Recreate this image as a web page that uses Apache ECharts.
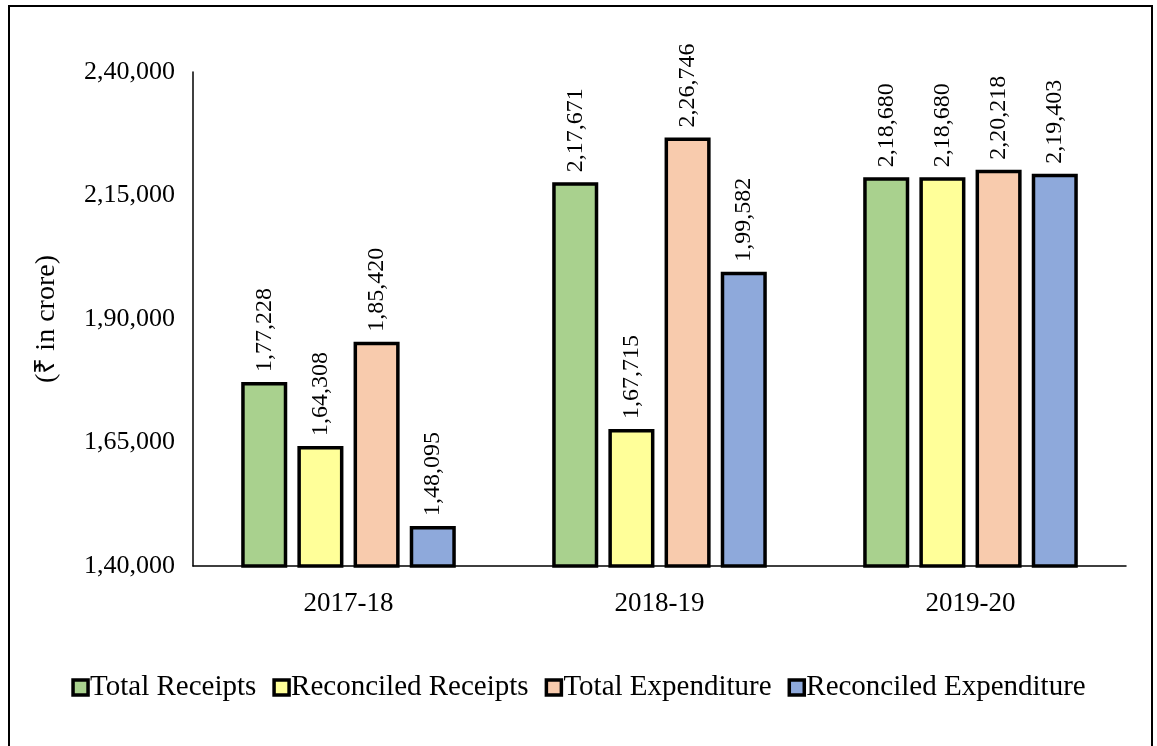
<!DOCTYPE html>
<html>
<head>
<meta charset="utf-8">
<script src="https://cdn.jsdelivr.net/npm/echarts@6/dist/echarts.min.js"></script>
<style>
html,body{margin:0;padding:0;background:#fff;}
#frame{position:absolute;left:8px;top:5px;width:1145px;height:760px;border:2px solid #000;box-sizing:border-box;}
#chart{position:absolute;left:0;top:0;width:1157px;height:746px;}
</style>
</head>
<body>
<div id="frame"></div>
<div id="chart"></div>
<script>
const categories = ['2017-18', '2018-19', '2019-20'];
const seriesNames = ['Total Receipts', 'Reconciled Receipts', 'Total Expenditure', 'Reconciled Expenditure'];
const totalReceipts = [177228, 217671, 218680];
const reconciledReceipts = [164308, 167715, 218680];
const totalExpenditure = [185420, 226746, 220218];
const reconciledExpenditure = [148095, 199582, 219403];
const colors = ['#A9D18E', '#FFFF99', '#F8CBAD', '#8EA9DB'];

function indian(v) {
  const s = String(Math.round(v));
  if (s.length <= 3) return s;
  const last3 = s.slice(-3);
  let rest = s.slice(0, -3);
  const parts = [];
  while (rest.length > 2) { parts.unshift(rest.slice(-2)); rest = rest.slice(0, -2); }
  if (rest.length) parts.unshift(rest);
  return parts.join(',') + ',' + last3;
}

const font = 'Liberation Serif';
const dataArr = [totalReceipts, reconciledReceipts, totalExpenditure, reconciledExpenditure];
const chart = echarts.init(document.getElementById('chart'));
chart.setOption({
  animation: false,
  textStyle: { fontFamily: font, color: '#000' },
  grid: { left: 193, right: 31, top: 72, bottom: 180 },
  legend: {
    left: 'center', top: 668, icon: 'rect', itemWidth: 15, itemHeight: 15, itemGap: 16,
    textStyle: { fontFamily: font, fontSize: 29, color: '#000', padding: [0, 0, 0, -3] },
    itemStyle: { borderColor: '#000', borderWidth: 3.5 },
    data: seriesNames
  },
  xAxis: {
    type: 'category', data: categories,
    axisLine: { lineStyle: { color: '#000', width: 1.5 } },
    axisTick: { show: false },
    axisLabel: { fontFamily: font, fontSize: 27, color: '#000', margin: 24 }
  },
  yAxis: {
    type: 'value', min: 140000, max: 240000, interval: 25000,
    name: '(₹ in crore)', nameLocation: 'middle', nameGap: 132,
    nameTextStyle: { fontFamily: font, fontSize: 28, color: '#000' },
    axisLine: { show: true, lineStyle: { color: '#000', width: 1.5 } },
    axisTick: { show: false },
    splitLine: { show: false },
    axisLabel: { fontFamily: font, fontSize: 26, color: '#000', margin: 18, formatter: v => indian(v) }
  },
  series: seriesNames.map((n, i) => ({
    name: n, type: 'bar', data: dataArr[i],
    barGap: '22%', barCategoryGap: '31%',
    itemStyle: { color: colors[i], borderColor: '#000', borderWidth: 3.5 },
    label: {
      show: true, position: 'top', rotate: 90, align: 'left', verticalAlign: 'middle', distance: 10,
      fontFamily: font, fontSize: 24, color: '#000', formatter: p => indian(p.value)
    }
  }))
});
</script>
</body>
</html>
